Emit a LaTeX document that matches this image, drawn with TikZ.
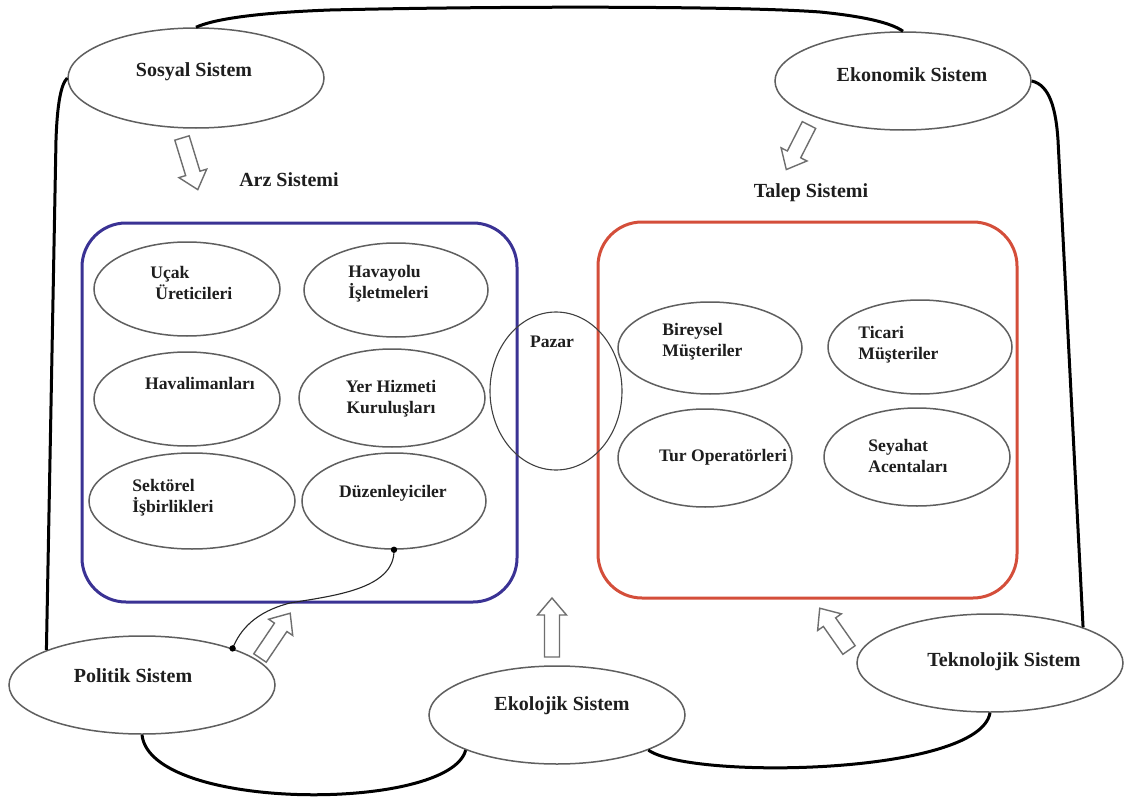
\documentclass[tikz,border=0pt]{standalone}
\usepackage{fontspec}
\setmainfont{Liberation Serif}
\usetikzlibrary{shapes.geometric}
\definecolor{boxblue}{RGB}{58,50,148}
\definecolor{boxred}{RGB}{212,78,58}
\definecolor{ellgray}{RGB}{95,95,95}
\definecolor{arrgray}{RGB}{110,110,110}
\definecolor{txtdark}{RGB}{30,30,30}
\begin{document}
\begin{tikzpicture}[x=0.5pt,y=-0.5pt,
  ell/.style={draw=ellgray, line width=0.75pt, ellipse, inner sep=0pt, fill=white},
  outer/.style={font=\fontsize{10}{12}\selectfont\bfseries, text=txtdark, inner sep=0pt},
  inner/.style={font=\fontsize{8.8}{10.5}\selectfont\bfseries, text=txtdark, inner sep=0pt, align=left},
  loopline/.style={draw=black, line width=1.5pt},
  thinlink/.style={draw=black!85, line width=0.55pt},
  hollow/.style={draw=arrgray, line width=0.7pt, fill=white, line join=miter},
  harrow/.pic={\path[hollow] (0,-7.5) -- (#1-17,-7.5) -- (#1-17,-14.5) -- (#1,0) -- (#1-17,14.5) -- (#1-17,7.5) -- (0,7.5) -- cycle;}
]
\fill[white] (0,0) rectangle (1126,803);
\useasboundingbox (0,0) rectangle (1126,803);

% system boxes
\draw[boxblue, line width=1.5pt, rounded corners=22pt] (82,223) rectangle (517,602);
\draw[boxred, line width=1.5pt, rounded corners=22pt] (598,222) rectangle (1017,598);

% outer system ellipses
\node[ell, minimum width=128pt, minimum height=50pt] (sos) at (196,78) {};
\node[ell, minimum width=128pt, minimum height=49pt] (eko) at (903,81) {};
\node[ell, minimum width=133pt, minimum height=49pt] (pol) at (142,685) {};
\node[ell, minimum width=128pt, minimum height=49pt] (ekl) at (557,715) {};
\node[ell, minimum width=133pt, minimum height=49pt] (tek) at (990,663) {};

% supply side ellipses
\node[ell, minimum width=93pt, minimum height=47pt] (uc) at (187,289) {};
\node[ell, minimum width=92pt, minimum height=47pt] (hav) at (396,290) {};
\node[ell, minimum width=93pt, minimum height=47pt] (hvl) at (187,399) {};
\node[ell, minimum width=93pt, minimum height=49pt] (yer) at (392,398) {};
\node[ell, minimum width=103pt, minimum height=48pt] (sek) at (192,501) {};
\node[ell, minimum width=92pt, minimum height=48pt] (duz) at (394,501) {};

% market
\node[ellipse, draw=black!75, line width=0.55pt, inner sep=0pt, minimum width=66pt, minimum height=79pt] (paz) at (556,391) {};

% demand side ellipses
\node[ell, minimum width=92pt, minimum height=46pt] (bir) at (710,348) {};
\node[ell, minimum width=92pt, minimum height=47pt] (tic) at (920,347) {};
\node[ell, minimum width=87pt, minimum height=49pt] (tur) at (705,458) {};
\node[ell, minimum width=93pt, minimum height=49pt] (sey) at (917,457) {};

% outer loop connecting the environment systems
\draw[loopline] (sos.north) .. controls (212,20) and (250,13) .. (330,10)
  .. controls (500,6) and (740,6) .. (820,12) .. controls (860,16) and (890,22) .. (eko.north);
\draw[loopline] (eko.east) .. controls (1050,85) and (1056,110) .. (1058,140) -- (tek.21);
\draw[loopline] (sos.west) .. controls (60,85) and (57,110) .. (56,140) -- (pol.160);
\draw[loopline] (pol.south) .. controls (150,812) and (450,812) .. (ekl.-159);
\draw[loopline] (ekl.-21) .. controls (690,780) and (980,775) .. (tek.south);

% link regulators - political system
\draw[thinlink] (duz.south) .. controls (395,590) and (330,596) .. (290,603)
  .. controls (255,612) and (240,630) .. (pol.22);
\fill[black] (duz.south) circle[radius=1.6pt];
\fill[black] (pol.22) circle[radius=1.6pt];

% hollow arrows
\coordinate (aSos) at (182,138);
\coordinate (aEko) at (809,125);
\coordinate (aPol) at (260,658);
\coordinate (aEkl) at (552,657);
\coordinate (aTek) at (849,650);
\pic[rotate=-73] at (aSos) {harrow=54};
\pic[rotate=-117] at (aEko) {harrow=50};
\pic[rotate=56] at (aPol) {harrow=54};
\pic[rotate=90] at (aEkl) {harrow=59};
\pic[rotate=125] at (aTek) {harrow=51};

% texts
\node[outer] (tsos) at (194,72) {Sosyal Sistem};
\node[outer] (teko) at (912,75) {Ekonomik Sistem};
\node[outer] (tarz) at (289,180) {Arz Sistemi};
\node[outer] (ttal) at (811,193) {Talep Sistemi};
\node[outer] (tpol) at (133,676) {Politik Sistem};
\node[outer] (tekl) at (562,706) {Ekolojik Sistem};
\node[outer] (ttek) at (1004,662) {Teknolojik Sistem};

\node[inner, anchor=west] (tuc) at (150,283) {Uçak\\\hspace*{2.5pt}Üreticileri};
\node[inner, anchor=west] (thav) at (348,284) {Havayolu\\İşletmeleri};
\node[inner] (thvl) at (200,383) {Havalimanları};
\node[inner, align=center] (tyer) at (391,399) {Yer Hizmeti\\Kuruluşları};
\node[inner, anchor=west] (tsek) at (132,498) {Sektörel\\İşbirlikleri};
\node[inner] (tduz) at (393,493) {Düzenleyiciler};
\node[inner] (tpaz) at (552,342) {Pazar};
\node[inner, anchor=west] (tbir) at (662,342) {Bireysel\\Müşteriler};
\node[inner, anchor=west] (ttic) at (858,345) {Ticari\\Müşteriler};
\node[inner] (ttur) at (723,457) {Tur Operatörleri};
\node[inner, anchor=west] (tsey) at (868,456) {Seyahat\\Acentaları};
\end{tikzpicture}
\end{document}
